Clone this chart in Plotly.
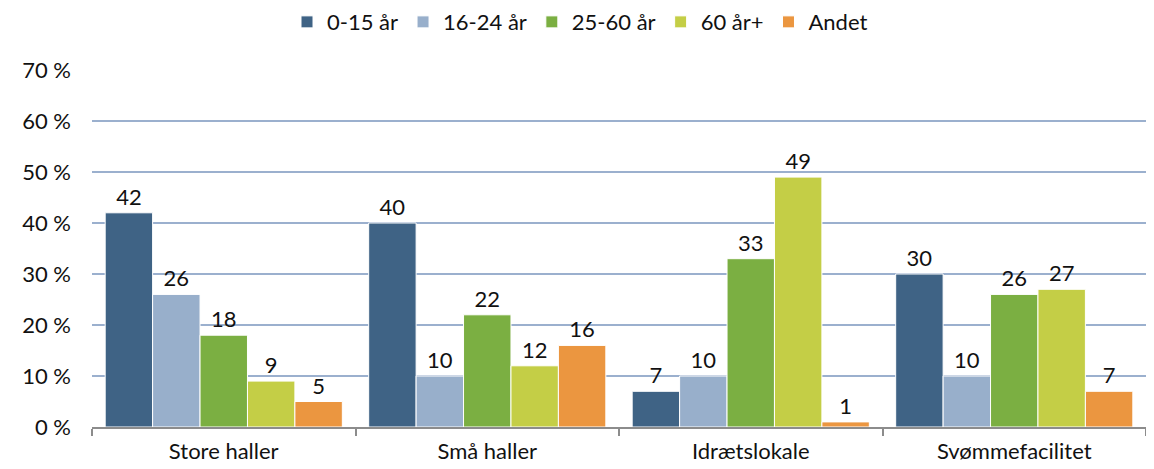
import plotly.graph_objects as go

# ── Data ────────────────────────────────────────────────────────────────────
categories = ["Store haller", "Små haller", "Idrætslokale", "Svømmefacilitet"]
series_names = ["0-15 år", "16-24 år", "25-60 år", "60 år+", "Andet"]
age_0_15 = [42, 40, 7, 30]
age_16_24 = [26, 10, 10, 10]
age_25_60 = [18, 22, 33, 26]
age_60_plus = [9, 12, 49, 27]
other = [5, 16, 1, 7]
y_ticks = [0, 10, 20, 30, 40, 50, 60, 70]
y_tick_labels = ["0 %", "10 %", "20 %", "30 %", "40 %", "50 %", "60 %", "70 %"]

COLORS = ["#3F6385", "#98AFCB", "#7BAF42", "#C4CE46", "#EB9640"]
FONT = "Lato, Open Sans, sans-serif"
SIZE = 22

fig = go.Figure()
for name, vals, color in zip(
    series_names, [age_0_15, age_16_24, age_25_60, age_60_plus, other], COLORS
):
    fig.add_trace(
        go.Bar(
            x=categories,
            y=vals,
            name=name,
            marker=dict(color=color, line=dict(color="white", width=1)),
            text=[str(v) for v in vals],
            textposition="outside",
            textfont=dict(size=SIZE, color="#111111", family=FONT),
            cliponaxis=False,
        )
    )

# page body adds an 8px offset, so margins are shifted to compensate
fig.update_layout(
    width=1154,
    height=469,
    barmode="group",
    bargap=0.1,
    bargroupgap=0,
    plot_bgcolor="white",
    paper_bgcolor="white",
    font=dict(family=FONT, size=SIZE, color="#111111"),
    margin=dict(l=84, r=16, t=62, b=50),
    legend=dict(
        orientation="h",
        x=0.463,
        xanchor="center",
        y=0.97,
        yanchor="middle",
        yref="container",
        font=dict(size=SIZE),
        itemwidth=30,
        traceorder="normal",
        bgcolor="rgba(0,0,0,0)",
    ),
    xaxis=dict(
        showline=True,
        linecolor="#8C8C8C",
        linewidth=2,
        ticks="outside",
        tickson="boundaries",
        ticklen=7,
        tickcolor="#8C8C8C",
        tickwidth=2,
        ticklabelstandoff=4,
        tickfont=dict(size=SIZE),
        automargin=False,
    ),
    yaxis=dict(
        range=[0, 70],
        tickvals=y_ticks,
        ticktext=y_tick_labels,
        showgrid=True,
        gridcolor="#9BB0CE",
        gridwidth=2,
        zeroline=False,
        showline=False,
        ticks="",
        ticklabelstandoff=20,
        tickfont=dict(size=SIZE),
        automargin=False,
    ),
)

fig.write_html("out.html")
